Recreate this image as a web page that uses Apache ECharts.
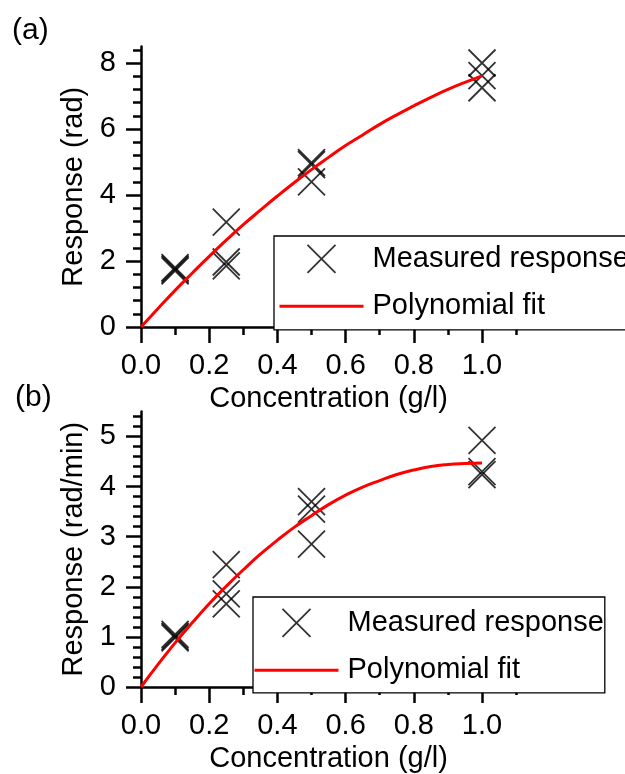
<!DOCTYPE html>
<html>
<head>
<meta charset="utf-8">
<script src="https://cdn.jsdelivr.net/npm/echarts@6/dist/echarts.min.js"></script>
<style>
html,body{margin:0;padding:0;background:#fff;}
#chart{width:625px;height:774px;}
</style>
</head>
<body>
<div id="chart"></div>
<script>
// ---- data ----
const seriesNames = ['Measured response', 'Polynomial fit'];
const panelLabels = ['(a)', '(b)'];
const xName = 'Concentration (g/l)';
const yNames = ['Response (rad)', 'Response (rad/min)'];
const xTickValues = [0, 0.2, 0.4, 0.6, 0.8, 1.0];
const xMinorTickValues = [0.1, 0.3, 0.5, 0.7, 0.9, 1.1];
const yTickValuesA = [0, 2, 4, 6, 8];
const yMinorTickValuesA = [0.4, 0.8, 1.2, 1.6, 2.4, 2.8, 3.2, 3.6, 4.4, 4.8, 5.2, 5.6, 6.4, 6.8, 7.2, 7.6, 8.4];
const yTickValuesB = [0, 1, 2, 3, 4, 5];
const yMinorTickValuesB = [0.2, 0.4, 0.6, 0.8, 1.2, 1.4, 1.6, 1.8, 2.2, 2.4, 2.6, 2.8, 3.2, 3.4, 3.6, 3.8, 4.2, 4.4, 4.6, 4.8, 5.2, 5.4];

// panel (a) measured points
const concA = [0.1, 0.1, 0.1, 0.25, 0.25, 0.25, 0.5, 0.5, 0.5, 1.0, 1.0, 1.0];
const respA = [1.80, 1.75, 1.70, 3.18, 1.97, 1.85, 4.98, 4.92, 4.40, 8.00, 7.62, 7.25];
// panel (b) measured points
const concB = [0.1, 0.1, 0.1, 0.25, 0.25, 0.25, 0.5, 0.5, 0.5, 1.0, 1.0, 1.0];
const respB = [1.05, 1.01, 0.98, 2.44, 1.86, 1.66, 3.70, 3.55, 2.85, 4.92, 4.30, 4.24];

// fitted curves
const fitX = [0, 0.05, 0.1, 0.15, 0.2, 0.25, 0.3, 0.35, 0.4, 0.45, 0.5, 0.55, 0.6, 0.65, 0.7, 0.75, 0.8, 0.85, 0.9, 0.95, 1.0];
const fitA = [0, 0.56, 1.11, 1.63, 2.14, 2.63, 3.10, 3.54, 3.97, 4.38, 4.77, 5.14, 5.50, 5.82, 6.14, 6.43, 6.70, 6.96, 7.20, 7.41, 7.61];
const fitB = [0, 0.45, 0.88, 1.28, 1.66, 2.01, 2.34, 2.65, 2.93, 3.19, 3.42, 3.64, 3.83, 3.99, 4.12, 4.24, 4.33, 4.40, 4.44, 4.46, 4.47];

// ---- build ----
const FONT = 'Liberation Sans, Arial, sans-serif';
const FS = 29;
const AXW = 2.5;
const pairs = (xs, ys) => xs.map((x, i) => [x, ys[i]]);
const xSymbol = 'path://M0,0L10,10M10,0L0,10';
const legendXIcon = 'path://M0,0M84,28M28,0L56,28M56,0L28,28';
const legendLineIcon = 'path://M0,0M84,28M0,14L84,14';
const XMAX = 1.1;

function xAxisDef(gridIndex) {
  return {
    gridIndex, type: 'value', position: 'bottom', min: 0, max: XMAX, interval: 0.2,
    name: xName, nameLocation: 'middle', nameGap: 57,
    nameTextStyle: {fontFamily: FONT, fontSize: FS, color: '#000'},
    axisLine: {show: true, onZero: false, lineStyle: {color: '#000', width: AXW}},
    axisTick: {show: true, inside: false, length: 16, customValues: xTickValues, lineStyle: {color: '#000', width: AXW}},
    minorTick: {show: false},
    axisLabel: {customValues: xTickValues, margin: 24, fontFamily: FONT, fontSize: FS, color: '#000',
      formatter: v => Number(v).toFixed(1)},
    splitLine: {show: false}
  };
}
function xMinorAxisDef(gridIndex) {
  return {
    gridIndex, type: 'value', position: 'bottom', offset: 0, min: 0, max: XMAX, interval: 0.1,
    axisLine: {show: false, onZero: false},
    axisTick: {show: true, inside: false, length: 8, customValues: xMinorTickValues, lineStyle: {color: '#000', width: AXW}},
    axisLabel: {show: false},
    splitLine: {show: false}
  };
}
function yAxisDef(gridIndex, max, interval, ticks, name) {
  return {
    gridIndex, type: 'value', position: 'left', min: 0, max, interval,
    name, nameLocation: 'middle', nameGap: 50, nameRotate: 90,
    nameTextStyle: {fontFamily: FONT, fontSize: FS, color: '#000'},
    axisLine: {show: true, onZero: false, lineStyle: {color: '#000', width: AXW}},
    axisTick: {show: true, inside: false, length: 15, customValues: ticks, lineStyle: {color: '#000', width: AXW}},
    minorTick: {show: false},
    axisLabel: {customValues: ticks, margin: 25, fontFamily: FONT, fontSize: FS, color: '#000'},
    splitLine: {show: false}
  };
}
function yMinorAxisDef(gridIndex, max, interval, ticks) {
  return {
    gridIndex, type: 'value', position: 'left', offset: 0, min: 0, max, interval,
    axisLine: {show: false, onZero: false},
    axisTick: {show: true, inside: false, length: 8, customValues: ticks, lineStyle: {color: '#000', width: AXW}},
    axisLabel: {show: false},
    splitLine: {show: false}
  };
}
function legendDef(left, top, padding) {
  return {
    orient: 'vertical', left, top, padding,
    itemWidth: 84, itemHeight: 28, itemGap: 17,
    borderColor: '#000', borderWidth: 1.3, backgroundColor: '#fff',
    selectedMode: false,
    textStyle: {fontFamily: FONT, fontSize: FS, color: '#000', padding: [0, 0, 0, 4]},
    data: [
      {name: seriesNames[0], icon: legendXIcon,
       itemStyle: {color: 'rgba(0,0,0,0)', borderColor: '#000', borderWidth: 1.8}},
      {name: seriesNames[1], icon: legendLineIcon,
       itemStyle: {color: 'rgba(0,0,0,0)', borderColor: '#ff0000', borderWidth: 3}}
    ]
  };
}
function scatterDef(idx, xs, ys) {
  return {
    type: 'scatter', name: seriesNames[0], xAxisIndex: idx, yAxisIndex: idx,
    data: pairs(xs, ys), symbol: xSymbol, symbolSize: 27,
    itemStyle: {color: 'rgba(0,0,0,0)', borderColor: '#000', borderWidth: 1.8},
    z: 2
  };
}
function lineDef(idx, ys) {
  return {
    type: 'line', name: seriesNames[1], xAxisIndex: idx, yAxisIndex: idx,
    data: pairs(fitX, ys), smooth: true, showSymbol: false, symbol: 'none',
    lineStyle: {color: '#ff0000', width: 3}, itemStyle: {color: '#ff0000'},
    z: 3
  };
}
function panelTitle(text, left, top) {
  return {text, left, top, padding: 0,
    textStyle: {fontFamily: FONT, fontSize: 30, fontWeight: 'normal', color: '#000'}};
}

const chart = echarts.init(document.getElementById('chart'), null, {renderer: 'canvas'});
chart.setOption({
  animation: false,
  backgroundColor: '#fff',
  title: [panelTitle(panelLabels[0], 12, 16), panelTitle(panelLabels[1], 15, 383)],
  grid: [
    {left: 141, top: 46.5, width: 375.1, height: 280.5},
    {left: 141, top: 411.4, width: 375.1, height: 278.6}
  ],
  xAxis: [xAxisDef(0), xAxisDef(1), xMinorAxisDef(0), xMinorAxisDef(1)],
  yAxis: [
    yAxisDef(0, 8.5, 2, yTickValuesA, yNames[0]),
    yAxisDef(1, 5.5, 1, yTickValuesB, yNames[1]),
    yMinorAxisDef(0, 8.5, 0.5, yMinorTickValuesA),
    yMinorAxisDef(1, 5.5, 0.5, yMinorTickValuesB)
  ],
  legend: [
    legendDef(274, 236, [8, 4, 8, 4]),
    legendDef(253, 597, [11, 1, 7, 0])
  ],
  series: [
    scatterDef(0, concA, respA),
    lineDef(0, fitA),
    scatterDef(1, concB, respB),
    lineDef(1, fitB)
  ]
});
</script>
</body>
</html>
